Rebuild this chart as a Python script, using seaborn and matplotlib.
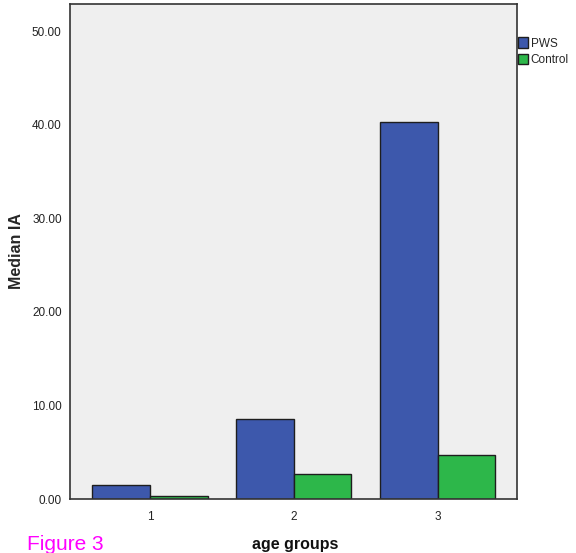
import matplotlib
matplotlib.use("Agg")
import matplotlib.pyplot as plt
import seaborn as sns
import pandas as pd
from matplotlib.patches import Patch

sns.set_style("white")
plt.rcParams["font.family"] = ["Liberation Sans", "DejaVu Sans"]

# Median IA per age group
age_groups = ["1", "2", "3"]
pws_values = [1.5, 8.55, 40.3]
control_values = [0.3, 2.67, 4.7]
groups = ["PWS", "Control"]
colors = {"PWS": "#3D58AC", "Control": "#2DB74A"}

df = pd.DataFrame({
    "age groups": age_groups * 2,
    "Median IA": pws_values + control_values,
    "group": ["PWS"] * 3 + ["Control"] * 3,
})

fig = plt.figure(figsize=(5.76, 5.53), dpi=100)
ax = fig.add_axes([70 / 576, 54 / 553, 447 / 576, 495 / 553])
ax.set_facecolor("#EFEFEF")

sns.barplot(data=df, x="age groups", y="Median IA", hue="group",
            hue_order=groups, palette=colors, width=0.8, ax=ax,
            edgecolor="#1E1E1E", linewidth=1.0, saturation=1, legend=False)

ax.set_xlim(-0.556, 2.55)
ax.set_ylim(0, 52.9)
ax.set_yticks([0, 10, 20, 30, 40, 50])
ax.set_yticklabels([f"{v:.2f}" for v in [0, 10, 20, 30, 40, 50]])
for s in ax.spines.values():
    s.set_color("#333333")
    s.set_linewidth(1.2)
ax.tick_params(axis="both", direction="out", length=5, width=1,
               color="#333333", labelsize=8.5, labelcolor="#222222")
ax.tick_params(axis="y", pad=1)
ax.tick_params(axis="x", pad=4)

ax.set_ylabel("Median IA", fontsize=11.5, fontweight="bold", labelpad=6)
ax.set_xlabel("")
fig.text(295 / 576, 1 - 544 / 553, "age groups", fontsize=11.5,
         fontweight="bold", ha="center", va="center", color="#111111")

handles = [Patch(facecolor=colors[g], edgecolor="#1E1E1E", linewidth=1.0) for g in groups]
fig.legend(handles, groups, loc="upper left", bbox_to_anchor=(516 / 576, 1 - 35 / 553),
           frameon=False, fontsize=8.5, handlelength=0.85, handleheight=1.0,
           handletextpad=0.2, labelspacing=0.35, borderaxespad=0, borderpad=0.2)

fig.text(27 / 576, 1 - 545 / 553, "Figure 3", color="#FF00FF", fontsize=15,
         va="center", ha="left")

fig.savefig("out.png", dpi=100)
